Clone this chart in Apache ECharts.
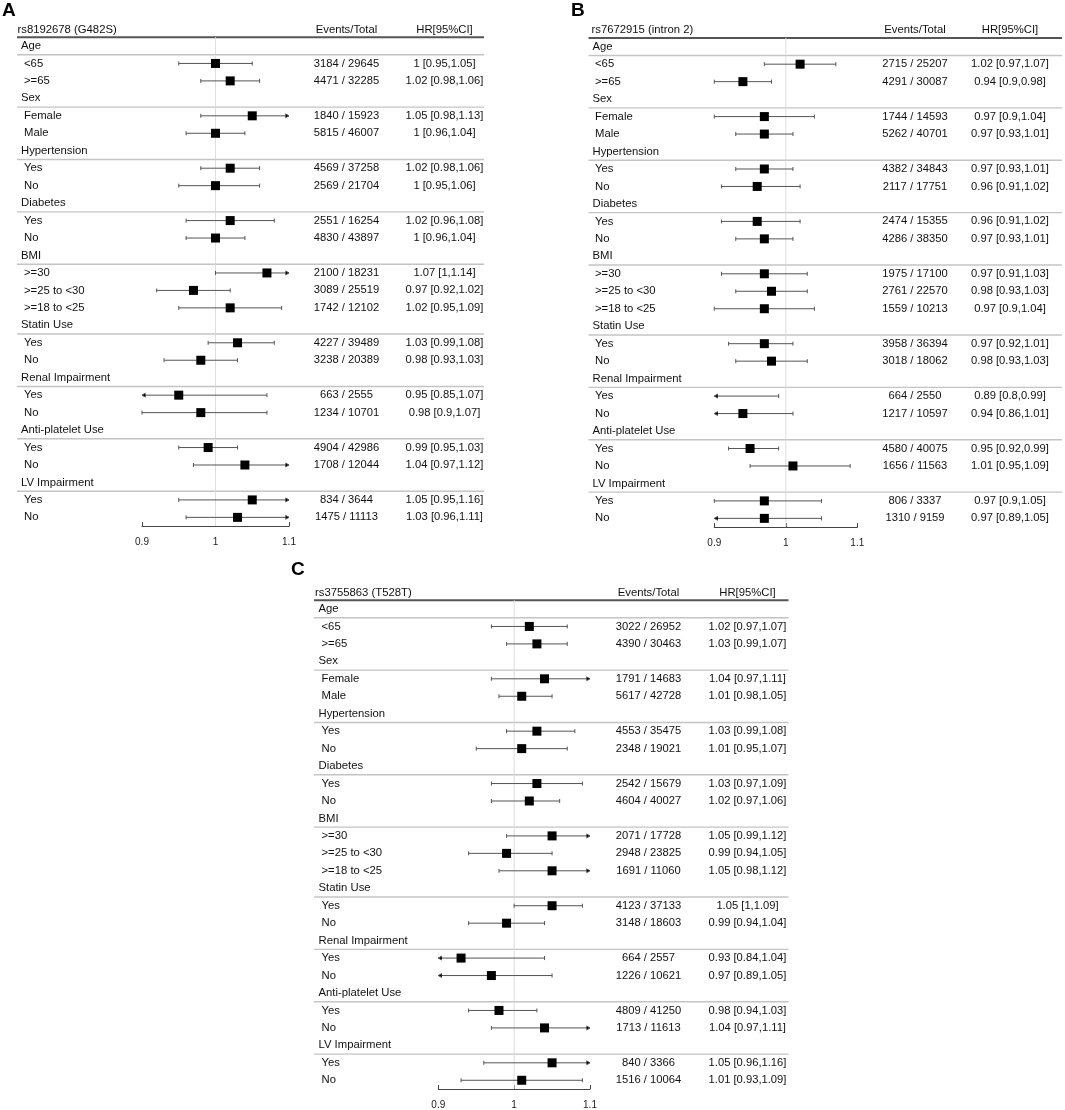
<!DOCTYPE html>
<html lang="en">
<head>
<meta charset="UTF-8">
<title>Subgroup forest plots</title>
<script src="https://cdn.jsdelivr.net/npm/echarts@6/dist/echarts.min.js"></script>
<style>
    html, body { margin: 0; padding: 0; background: #fff; }
    #chart { width: 1065px; height: 1110px; }
</style>
</head>
<body>
<div id="chart"></div>
<script>
    // row labels shared by the three panels
    const groups = ['Age', 'Sex', 'Hypertension', 'Diabetes', 'BMI', 'Statin Use',
        'Renal Impairment', 'Anti-platelet Use', 'LV Impairment'];
    const subgroups = [['<65', '>=65'], ['Female', 'Male'], ['Yes', 'No'], ['Yes', 'No'],
        ['>=30', '>=25 to <30', '>=18 to <25'], ['Yes', 'No'], ['Yes', 'No'], ['Yes', 'No'], ['Yes', 'No']];
    const axisTicks = [0.9, 1, 1.1];

    // panel A
    const snpA = 'rs8192678 (G482S)';
    const eventsA = [3184, 4471, 1840, 5815, 4569, 2569, 2551, 4830, 2100, 3089, 1742, 4227, 3238, 663, 1234, 4904, 1708, 834, 1475];
    const totalA = [29645, 32285, 15923, 46007, 37258, 21704, 16254, 43897, 18231, 25519, 12102, 39489, 20389, 2555, 10701, 42986, 12044, 3644, 11113];
    const hrA = [1, 1.02, 1.05, 1, 1.02, 1, 1.02, 1, 1.07, 0.97, 1.02, 1.03, 0.98, 0.95, 0.98, 0.99, 1.04, 1.05, 1.03];
    const loA = [0.95, 0.98, 0.98, 0.96, 0.98, 0.95, 0.96, 0.96, 1, 0.92, 0.95, 0.99, 0.93, 0.85, 0.9, 0.95, 0.97, 0.95, 0.96];
    const hiA = [1.05, 1.06, 1.13, 1.04, 1.06, 1.06, 1.08, 1.04, 1.14, 1.02, 1.09, 1.08, 1.03, 1.07, 1.07, 1.03, 1.12, 1.16, 1.11];

    // panel B
    const snpB = 'rs7672915 (intron 2)';
    const eventsB = [2715, 4291, 1744, 5262, 4382, 2117, 2474, 4286, 1975, 2761, 1559, 3958, 3018, 664, 1217, 4580, 1656, 806, 1310];
    const totalB = [25207, 30087, 14593, 40701, 34843, 17751, 15355, 38350, 17100, 22570, 10213, 36394, 18062, 2550, 10597, 40075, 11563, 3337, 9159];
    const hrB = [1.02, 0.94, 0.97, 0.97, 0.97, 0.96, 0.96, 0.97, 0.97, 0.98, 0.97, 0.97, 0.98, 0.89, 0.94, 0.95, 1.01, 0.97, 0.97];
    const loB = [0.97, 0.9, 0.9, 0.93, 0.93, 0.91, 0.91, 0.93, 0.91, 0.93, 0.9, 0.92, 0.93, 0.8, 0.86, 0.92, 0.95, 0.9, 0.89];
    const hiB = [1.07, 0.98, 1.04, 1.01, 1.01, 1.02, 1.02, 1.01, 1.03, 1.03, 1.04, 1.01, 1.03, 0.99, 1.01, 0.99, 1.09, 1.05, 1.05];

    // panel C
    const snpC = 'rs3755863 (T528T)';
    const eventsC = [3022, 4390, 1791, 5617, 4553, 2348, 2542, 4604, 2071, 2948, 1691, 4123, 3148, 664, 1226, 4809, 1713, 840, 1516];
    const totalC = [26952, 30463, 14683, 42728, 35475, 19021, 15679, 40027, 17728, 23825, 11060, 37133, 18603, 2557, 10621, 41250, 11613, 3366, 10064];
    const hrC = [1.02, 1.03, 1.04, 1.01, 1.03, 1.01, 1.03, 1.02, 1.05, 0.99, 1.05, 1.05, 0.99, 0.93, 0.97, 0.98, 1.04, 1.05, 1.01];
    const loC = [0.97, 0.99, 0.97, 0.98, 0.99, 0.95, 0.97, 0.97, 0.99, 0.94, 0.98, 1, 0.94, 0.84, 0.89, 0.94, 0.97, 0.96, 0.93];
    const hiC = [1.07, 1.07, 1.11, 1.05, 1.08, 1.07, 1.09, 1.06, 1.12, 1.05, 1.12, 1.09, 1.04, 1.04, 1.05, 1.03, 1.11, 1.16, 1.09];

    const FONT = "'Liberation Sans', Arial, sans-serif";
    const XMIN = axisTicks[0], XMAX = axisTicks[axisTicks.length - 1];

    // table rows: header, then group label followed by its subgroups
    const rows = [{ kind: 'head' }];
    let k = 0;
    groups.forEach((g, gi) => {
        rows.push({ kind: 'group', label: g });
        subgroups[gi].forEach(s => rows.push({ kind: 'sub', label: s, k: k++ }));
    });

    // layout of each panel (pixels)
    const panels = [
        { snp: snpA, ev: eventsA, tot: totalA, hr: hrA, lo: loA, hi: hiA,
          grid: { left: 142, top: 19.8, width: 147, height: 506.3 },
          lineL: 17, lineR: 484, titleX: 17.5, groupX: 21, subX: 24, evX: 346.5, hrX: 444.5 },
        { snp: snpB, ev: eventsB, tot: totalB, hr: hrB, lo: loB, hi: hiB,
          grid: { left: 714.3, top: 20.5, width: 143, height: 506.6 },
          lineL: 588.5, lineR: 1062, titleX: 591.5, groupX: 592.5, subX: 595, evX: 915, hrX: 1010 },
        { snp: snpC, ev: eventsC, tot: totalC, hr: hrC, lo: loC, hi: hiC,
          grid: { left: 438.3, top: 582.8, width: 151.7, height: 506.3 },
          lineL: 314, lineR: 788.5, titleX: 315, groupX: 318.5, subX: 321.5, evX: 648.5, hrX: 747.5 }
    ];

    function txt(text, x, y, align, size) {
        return {
            type: 'text', x: x, y: y,
            style: { text: text, fill: '#111', font: size + 'px ' + FONT,
                     align: align, verticalAlign: 'middle', textAlign: align, textVerticalAlign: 'middle' }
        };
    }

    function makeRender(p) {
        return function (params, api) {
            const i = api.value(0);
            const row = rows[i];
            const y = api.coord([1, i])[1];
            const h = api.size([0, 1])[1];
            const xRef = api.coord([1, i])[0];
            const children = [];
            if (i > 0) {
                children.push({ type: 'line', shape: { x1: xRef, y1: y - h / 2, x2: xRef, y2: y + h / 2 },
                                style: { stroke: '#dedede', lineWidth: 1 } });
            }
            if (row.kind === 'head') {
                children.push(txt(p.snp, p.titleX, y + 1, 'left', 11.3));
                children.push(txt('Events/Total', p.evX, y + 1, 'center', 11.3));
                children.push(txt('HR[95%CI]', p.hrX, y + 1, 'center', 11.3));
                children.push({ type: 'line', shape: { x1: p.lineL, y1: y + h / 2, x2: p.lineR, y2: y + h / 2 },
                                style: { stroke: '#555', lineWidth: 2 } });
            } else if (row.kind === 'group') {
                children.push(txt(row.label, p.groupX, y, 'left', 11.3));
                children.push({ type: 'line', shape: { x1: p.lineL, y1: y + h / 2, x2: p.lineR, y2: y + h / 2 },
                                style: { stroke: '#c4c4c4', lineWidth: 1.4 } });
            } else {
                const j = row.k;
                children.push(txt(row.label, p.subX, y, 'left', 11.3));
                children.push(txt(p.ev[j] + ' / ' + p.tot[j], p.evX, y, 'center', 11.2));
                children.push(txt(p.hr[j] + ' [' + p.lo[j] + ',' + p.hi[j] + ']', p.hrX, y, 'center', 11.2));
                const lo = Math.max(p.lo[j], XMIN), hi = Math.min(p.hi[j], XMAX);
                const xl = api.coord([lo, i])[0], xr = api.coord([hi, i])[0];
                const ci = { stroke: '#555', lineWidth: 1 };
                children.push({ type: 'line', shape: { x1: xl, y1: y, x2: xr, y2: y }, style: ci });
                if (p.lo[j] < XMIN) {
                    children.push({ type: 'polyline', shape: { points: [[xl + 3.5, y - 2], [xl, y], [xl + 3.5, y + 2]] }, style: ci });
                } else {
                    children.push({ type: 'line', shape: { x1: xl, y1: y - 2, x2: xl, y2: y + 2 }, style: ci });
                }
                if (p.hi[j] > XMAX) {
                    children.push({ type: 'polyline', shape: { points: [[xr - 3.5, y - 2], [xr, y], [xr - 3.5, y + 2]] }, style: ci });
                } else {
                    children.push({ type: 'line', shape: { x1: xr, y1: y - 2, x2: xr, y2: y + 2 }, style: ci });
                }
                if (p.hr[j] >= XMIN && p.hr[j] <= XMAX) {
                    const xp = api.coord([p.hr[j], i])[0];
                    children.push({ type: 'rect', shape: { x: xp - 4.5, y: y - 4.5, width: 9, height: 9 },
                                    style: { fill: '#000' } });
                }
            }
            return { type: 'group', children: children };
        };
    }

    const chart = echarts.init(document.getElementById('chart'), null, { renderer: 'canvas' });
    const rowIdx = rows.map((r, i) => i);

    const option = {
        animation: false,
        backgroundColor: '#fff',
        textStyle: { fontFamily: FONT },
        graphic: [
            { type: 'text', left: 2, top: 1, style: { text: 'A', font: 'bold 19px ' + FONT, fill: '#000' } },
            { type: 'text', left: 571, top: 1, style: { text: 'B', font: 'bold 19px ' + FONT, fill: '#000' } },
            { type: 'text', left: 291, top: 560, style: { text: 'C', font: 'bold 19px ' + FONT, fill: '#000' } }
        ],
        grid: panels.map(p => Object.assign({ containLabel: false }, p.grid)),
        xAxis: panels.map((p, gi) => ({
            type: 'value', gridIndex: gi, min: XMIN, max: XMAX, interval: 0.1,
            position: 'bottom',
            axisLine: { show: true, lineStyle: { color: '#444', width: 1 } },
            axisTick: { show: true, inside: true, length: 4, lineStyle: { color: '#444' } },
            axisLabel: { margin: 11, fontSize: 10, color: '#222', fontFamily: FONT,
                         formatter: v => String(+v.toFixed(2)) },
            splitLine: { show: false }
        })),
        yAxis: panels.map((p, gi) => ({
            type: 'category', gridIndex: gi, data: rowIdx, inverse: true, show: false
        })),
        series: panels.map((p, gi) => ({
            type: 'custom', xAxisIndex: gi, yAxisIndex: gi, clip: false,
            renderItem: makeRender(p),
            encode: { y: 0 },
            data: rowIdx.map(i => [i])
        }))
    };
    chart.setOption(option);
</script>
</body>
</html>
